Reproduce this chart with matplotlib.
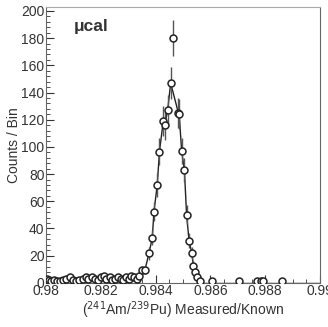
import numpy as np
import matplotlib.pyplot as plt

plt.rcParams['font.family'] = ['Liberation Sans', 'DejaVu Sans']

# baseline region (0.980 - 0.9833)
base_x = [0.98005, 0.98012, 0.98020, 0.98030, 0.98040, 0.98050, 0.98062, 0.98075,
          0.98088, 0.98100, 0.98110, 0.98122, 0.98135, 0.98145, 0.98155, 0.98168,
          0.98178, 0.98190, 0.98200, 0.98210, 0.98220, 0.98232, 0.98242, 0.98252,
          0.98262, 0.98272, 0.98282, 0.98292, 0.98302, 0.98312, 0.98322, 0.98331]
base_y = [3, 2, 1, 2, 1, 1, 2, 3, 4, 2, 1, 2, 3, 4, 3, 4, 3, 2, 4, 5, 3, 4, 2, 3,
          4, 3, 2, 4, 3, 5, 4, 3]

# peak region
peak_x = [0.98340, 0.98349, 0.98361, 0.98376, 0.98388, 0.98394, 0.98406, 0.98414,
          0.98428, 0.98433, 0.98444, 0.98455, 0.98463, 0.98483, 0.98486, 0.98495,
          0.98505, 0.98513, 0.98522, 0.98532, 0.98538, 0.98545, 0.98552, 0.98563,
          0.98607, 0.98704, 0.98771, 0.98783, 0.98792, 0.98862]
peak_y = [5, 9.5, 9.5, 21.8, 33.3, 52.4, 72, 96.5, 119, 116, 127, 147, 180, 125,
          124, 97, 83, 50, 31, 22, 12.5, 8, 4.2, 1.7, 1.2, 1, 1, 1, 1, 1]

x = np.array(base_x + peak_x)
y = np.array(base_y + peak_y)
err = np.sqrt(y)

fig = plt.figure(figsize=(3.28, 3.27), dpi=100)
ax = fig.add_axes([0.140, 0.135, 0.836, 0.844])

# line through the points (without the outlier at the peak)
keep = (y < 170) & (x < 0.9857)
ax.plot(x[keep], y[keep], color='#222222', lw=1.0, zorder=2)
ax.plot([0.9857, 0.99], [0, 0], color='#222222', lw=1.0, zorder=2)

ax.errorbar(x, y, yerr=err, fmt='o', ms=5, mfc='white', mec='#222222',
            mew=1.1, ecolor='#555555', elinewidth=1.0, capsize=0, zorder=3)

ax.set_xlim(0.98, 0.99)
ax.set_ylim(0, 203)
ax.set_xticks([0.98, 0.982, 0.984, 0.986, 0.988, 0.99])
ax.set_xticklabels(['0.98', '0.982', '0.984', '0.986', '0.988', '0.99'])
ax.set_xticks(np.arange(0.98, 0.99001, 0.0005), minor=True)
ax.set_yticks(np.arange(0, 201, 20))
ax.set_yticks(np.arange(0, 201, 4), minor=True)
ax.tick_params(which='both', direction='in', top=False, right=False,
               labelsize=10, colors='#333333', pad=1)
ax.tick_params(which='major', length=6)
ax.tick_params(which='minor', length=3)
for s in ax.spines.values():
    s.set_color('#666666')
    s.set_linewidth(0.8)
ax.spines['top'].set_color('#aaaaaa')

ax.set_xlabel('($^{241}$Am/$^{239}$Pu) Measured/Known', fontsize=10,
              color='#333333', labelpad=1)
ax.set_ylabel('Counts / Bin', fontsize=10, color='#333333', labelpad=0)
ax.text(0.10, 0.93, '\u03bccal', transform=ax.transAxes, fontsize=12.5,
        fontweight='bold', color='#333333', va='center')

fig.savefig('out.png', dpi=100)
